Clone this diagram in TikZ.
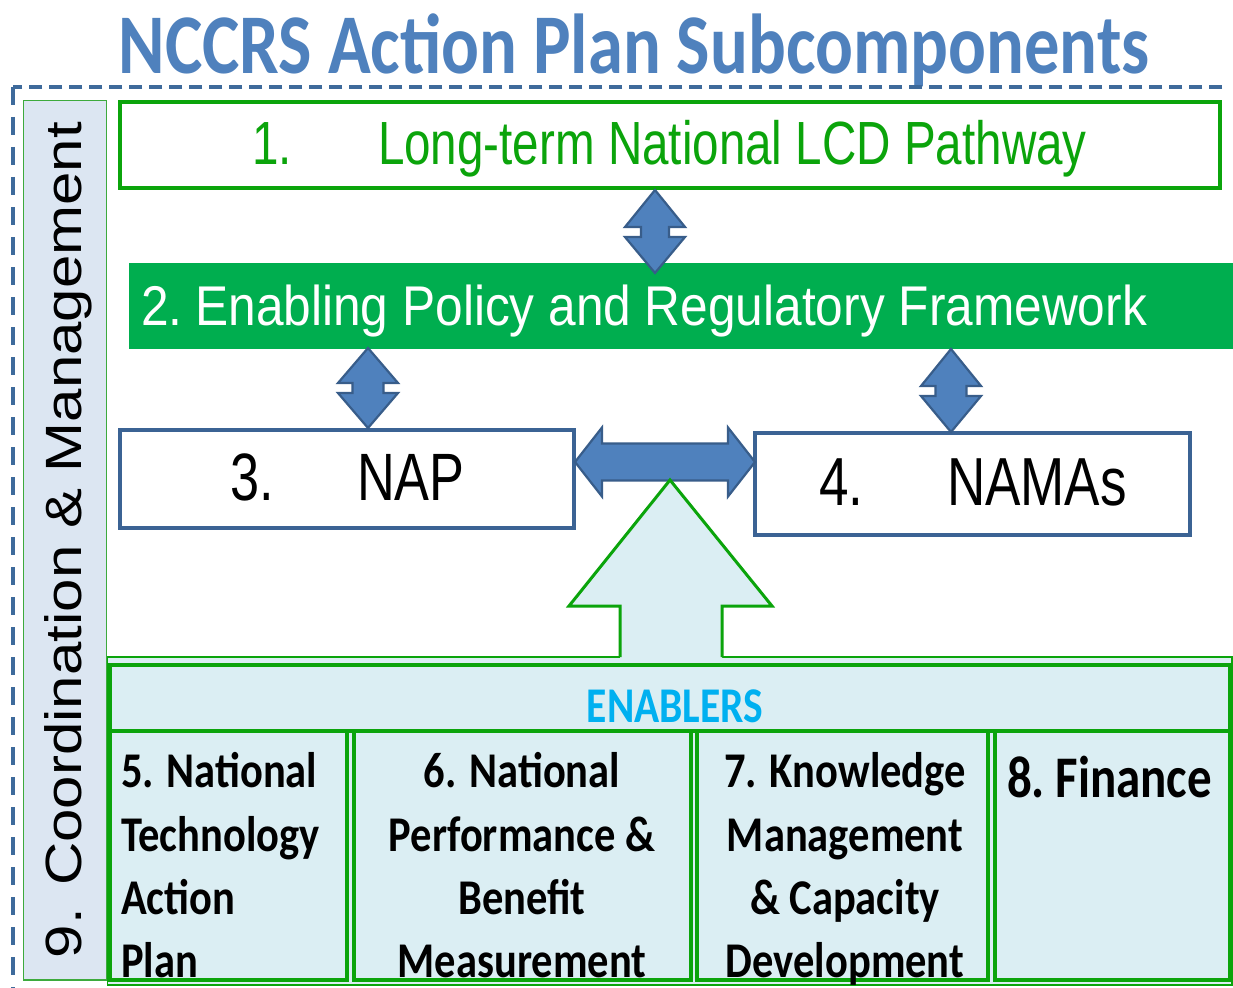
\documentclass[tikz,border=0pt]{standalone}
\usepackage{fontspec}
\newfontfamily\calb[FakeStretch=0.83]{Carlito}
\newfontfamily\calc[FakeStretch=0.85]{Carlito}
\newfontfamily\arn[FakeStretch=0.78]{Liberation Sans}
\newfontfamily\arr{Liberation Sans}
\definecolor{titleblue}{HTML}{4F81BD}
\definecolor{dashblue}{HTML}{3E6A9B}
\definecolor{panelfill}{HTML}{DCE6F2}
\definecolor{pgreen}{HTML}{3DAA3D}
\definecolor{lgreen}{HTML}{0BA40B}
\definecolor{fgreen}{HTML}{00AE4F}
\definecolor{bborder}{HTML}{3B6394}
\definecolor{afill}{HTML}{4F81BD}
\definecolor{astroke}{HTML}{385D8A}
\definecolor{enfill}{HTML}{DBEEF3}
\definecolor{encyan}{HTML}{00B0F0}
\newcommand\vdarr[7]{\draw[blockarrow] (#1,#2) -- ({#1+#6},#4) -- ({#1+#7},#4) -- ({#1+#7},#5) -- ({#1+#6},#5) -- (#1,#3) -- ({#1-#6},#5) -- ({#1-#7},#5) -- ({#1-#7},#4) -- ({#1-#6},#4) -- cycle;}
\tikzset{
  txt/.style={inner sep=0pt, outer sep=0pt},
  blockarrow/.style={fill=afill, draw=astroke, line width=2.2pt, line join=miter},
  greenbox/.style={draw=lgreen, line width=4pt},
  bluebox/.style={draw=bborder, line width=4pt, fill=white},
  entext/.style={txt, anchor=base, font=\calc\bfseries\fontsize{50}{50}\selectfont},
  entextl/.style={txt, anchor=base west, font=\calc\bfseries\fontsize{50}{50}\selectfont}
}
\begin{document}
\begin{tikzpicture}[x=1pt,y=-1pt]
\useasboundingbox (0,0) rectangle (1233,987);
\fill[white] (0,0) rectangle (1233,987);

% title
\node[txt, anchor=base, text=titleblue] (title) at (634,74)
  {\calb\bfseries\fontsize{85}{85}\selectfont NCCRS Action Plan Subcomponents};

% dashed frame
\draw[dashblue, line width=3.5pt, dash pattern=on 13pt off 7pt] (1222,87) -- (13,87);
\draw[dashblue, line width=3.5pt, dash pattern=on 18pt off 12pt] (13,87) -- (13,995);

% panel 9
\draw[fill=panelfill, draw=pgreen, line width=1.5pt] (23.5,100.5) rectangle (106.5,980);
\node[txt, rotate=90, anchor=base west] (t9) at (81,958)
  {\scalebox{1}[0.85]{\arr\fontsize{60}{60}\selectfont 9. Coordination \& Management}};

% box 1
\draw[greenbox, fill=white] (120,102) rectangle (1220,188);
\node[txt, anchor=base west, text=lgreen] (t1a) at (252,165) {\arn\fontsize{61}{61}\selectfont 1.};
\node[txt, anchor=base west, text=lgreen] (t1b) at (378,165) {\arn\fontsize{61}{61}\selectfont Long-term National LCD Pathway};

% box 2
\fill[fgreen] (129,263) rectangle (1233,349);
\node[txt, anchor=base west, text=white] (t2) at (141,325)
  {\resizebox{1006pt}{\height}{\arr\fontsize{56}{56}\selectfont 2.\kern-6pt{} Enabling Policy and Regulatory Framework}};

% box 3 and 4
\draw[bluebox] (120,430) rectangle (574,528);
\node[txt, anchor=base west] (t3a) at (230,500) {\arn\fontsize{67}{67}\selectfont 3.};
\node[txt, anchor=base west] (t3b) at (357,500) {\arn\fontsize{67}{67}\selectfont NAP};
\draw[bluebox] (755,433) rectangle (1190,535);
\node[txt, anchor=base west] (t4a) at (819,505) {\arn\fontsize{68}{68}\selectfont 4.};
\node[txt, anchor=base west] (t4b) at (947,505) {\arn\fontsize{68}{68}\selectfont NAMAs};

% vertical double arrows
\vdarr{655}{190}{273}{227}{237}{30}{14}
\vdarr{368}{348}{428}{383}{393}{30}{15.5}
\vdarr{951}{349}{432}{386}{396}{30}{15.5}

% horizontal double arrow
\draw[blockarrow] (575,462) -- (602,427.5) -- (602,443.5) -- (728,443.5) -- (728,427.5) -- (755,462)
  -- (728,496.5) -- (728,480.5) -- (602,480.5) -- (602,496.5) -- cycle;

% enablers area
\draw[fill=enfill, draw=lgreen, line width=1.5pt] (107.5,657) rectangle (1232,985);
\fill[enfill] (670,480) -- (772,606) -- (722,606) -- (722,658) -- (620,658) -- (620,606) -- (569,606) -- cycle;
\draw[lgreen, line width=3pt, line join=miter] (620,657) -- (620,606) -- (569,606) -- (670,480) -- (772,606) -- (722,606) -- (722,657);

\draw[greenbox] (110,665) rectangle (1230,731);
\node[txt, anchor=base, text=encyan] (ten) at (675,722) {\calb\bfseries\fontsize{50}{50}\selectfont ENABLERS};

\draw[greenbox] (110,731) rectangle (347,980);
\draw[greenbox] (354,731) rectangle (691,980);
\draw[greenbox] (697,731) rectangle (988,980);
\draw[greenbox] (995,731) rectangle (1230,980);

\node[entextl] (t5a) at (121,787) {5. National};
\node[entextl] (t5b) at (121,851) {Technology};
\node[entextl] (t5c) at (121,914) {Action};
\node[entextl] (t5d) at (121,977) {Plan};

\node[entext] (t6a) at (522,787) {6. National};
\node[entext] (t6b) at (522,851) {Performance \&};
\node[entext] (t6c) at (522,914) {Benefit};
\node[entext] (t6d) at (522,977) {Measurement};

\node[entext] (t7a) at (845,787) {7. Knowledge};
\node[entext] (t7b) at (845,851) {Management};
\node[entext] (t7c) at (845,914) {\& Capacity};
\node[entext] (t7d) at (845,977) {Development};

\node[txt, anchor=base west] (t8) at (1007,797) {\calb\bfseries\fontsize{59}{59}\selectfont 8.\kern-4pt{} Finance};
\end{tikzpicture}
\end{document}
